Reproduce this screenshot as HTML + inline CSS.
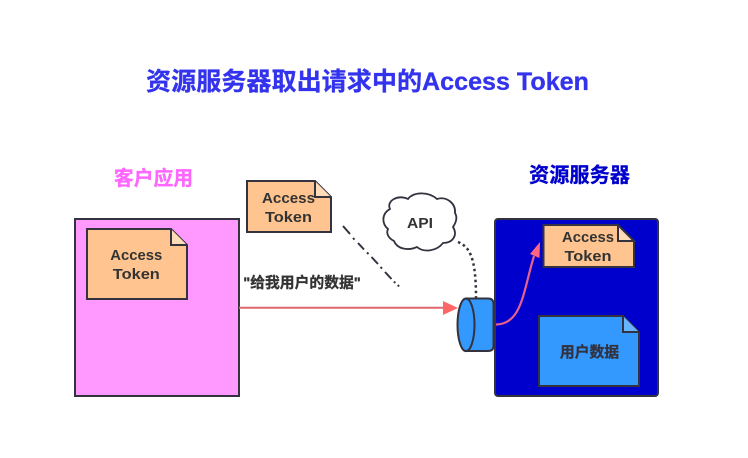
<!DOCTYPE html>
<html>
<head>
<meta charset="utf-8">
<style>
html,body{margin:0;padding:0;background:#fff;width:748px;height:458px;overflow:hidden}
svg{display:block}
text{font-family:"Liberation Sans","Noto Sans CJK SC",sans-serif;font-weight:700;text-anchor:middle;stroke-width:.3px;paint-order:stroke}
</style>
</head>
<body>
<svg width="748" height="458" viewBox="0 0 748 458" xmlns="http://www.w3.org/2000/svg">
<rect width="748" height="458" fill="#fff"/>
<text x="367.500" y="90" font-size="25.100" fill="#3333ee" stroke="#3333ee">资源服务器取出请求中的Access Token</text>
<text x="153.500" y="185" font-size="19.800" fill="#ff66ff" stroke="#ff66ff">客户应用</text>
<text x="579.500" y="182" font-size="20.200" fill="#0000cc" stroke="#0000cc">资源服务器</text>

<rect x="75" y="219" width="164" height="177" fill="#ff99ff" stroke="#33323e" stroke-width="2"/>
<path d="M87 229H171L187 245V299H87Z" fill="#ffc48f" stroke="#33323e" stroke-width="2"/>
<path d="M171 229V245H187" fill="#ffdcb8" stroke="#33323e" stroke-width="2"/>
<text x="136.300" y="260" font-size="14.500" fill="#333" textLength="52" lengthAdjust="spacingAndGlyphs">Access</text>
<text x="136.300" y="279" font-size="14.500" fill="#333" textLength="47" lengthAdjust="spacingAndGlyphs">Token</text>

<path d="M247 181H315L331 197V232H247Z" fill="#ffc48f" stroke="#33323e" stroke-width="2"/>
<path d="M315 181V197H331" fill="#ffdcb8" stroke="#33323e" stroke-width="2"/>
<text x="288.500" y="203" font-size="14.500" fill="#333" textLength="53" lengthAdjust="spacingAndGlyphs">Access</text>
<text x="288.500" y="222" font-size="14.500" fill="#333" textLength="47" lengthAdjust="spacingAndGlyphs">Token</text>

<path d="M343 226L350 234M353 238L354.500 239.600M358 243L364 249.500M367 252.500L368.500 254M371.500 257L378 264M380.500 267L382 268.600M385 272L391.500 279M394 281.500L395.200 283M397.800 285L399 286.500" stroke="#33323e" stroke-width="2" fill="none"/>
<text x="302" y="287.500" font-size="14.800" fill="#333" stroke="#333">"给我用户的数据"</text>

<path d="M239 307.800H446" stroke="#e0686c" stroke-width="2" fill="none"/>
<path d="M443 301L458 308L443 315Z" fill="#ff6666"/>

<path d="M390 209C386 201 398 194 408 199C413 192 428 191 437 199C446 196 456 203 455 213C458 218 455 224 453 227C458 235 453 243 443 243C437 251 424 253 417 247C408 251 397 249 394 241C388 238 386 233 388 229C382 224 381 214 390 209Z" fill="#fff" stroke="#33323e" stroke-width="1.800"/>
<text x="420" y="228" font-size="14.500" fill="#333" textLength="26" lengthAdjust="spacingAndGlyphs">API</text>
<path d="M458 242C470 247 476 258 476 298" stroke="#33323e" stroke-width="2.500" stroke-dasharray="2.500 3" fill="none"/>

<rect x="495" y="219" width="163" height="177" rx="3" fill="#0000cc" stroke="#33323e" stroke-width="2"/>

<path d="M466 298.500H488Q493.500 298.500 493.500 304V346Q493.500 351 488 351H466Z" fill="#3399ff" stroke="#33323e" stroke-width="2"/>
<ellipse cx="466" cy="324.800" rx="8.500" ry="26.300" fill="#3399ff" stroke="#33323e" stroke-width="2"/>

<path d="M543.500 225H618L634 241V267H543.500Z" fill="#ffc48f" stroke="#33323e" stroke-width="2"/>
<path d="M618 225V241H634L618 225Z" fill="#ffdcb8" stroke="#33323e" stroke-width="2"/>
<text x="588" y="242" font-size="14.500" fill="#333" textLength="52" lengthAdjust="spacingAndGlyphs">Access</text>
<text x="588" y="261" font-size="14.500" fill="#333" textLength="47" lengthAdjust="spacingAndGlyphs">Token</text>

<path d="M539 316H623L639 332V386H539Z" fill="#3399ff" stroke="#33323e" stroke-width="2"/>
<path d="M623 316V332H639" fill="#66b3ff" stroke="#33323e" stroke-width="2"/>
<text x="589.500" y="357" font-size="14.800" fill="#33323e" stroke="#33323e">用户数据</text>

<path d="M496 324.500C522 324 523 292 534 256" stroke="#e9608c" stroke-width="2.200" fill="none"/>
<path d="M540 242L539.500 258L530 254Z" fill="#ff6680"/>
</svg>
</body>
</html>
